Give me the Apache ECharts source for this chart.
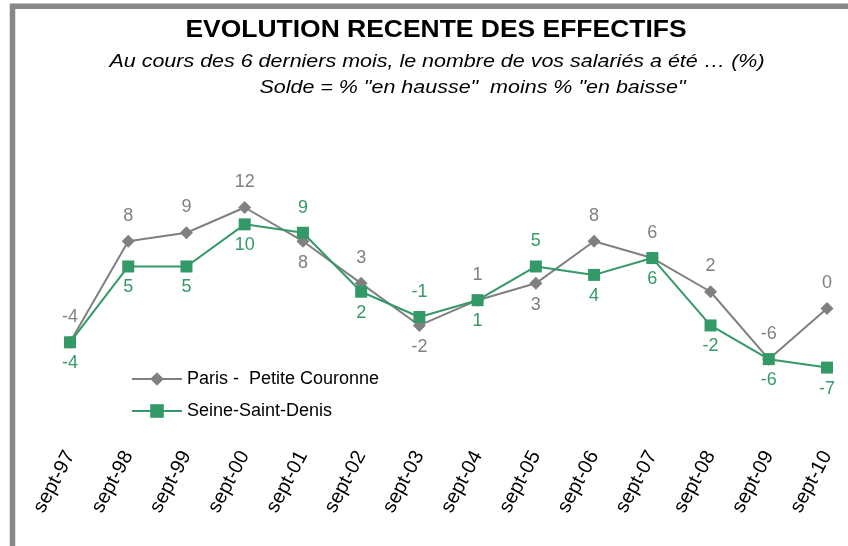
<!DOCTYPE html>
<html>
<head>
<meta charset="utf-8">
<script src="https://cdn.jsdelivr.net/npm/echarts@6/dist/echarts.min.js"></script>
<style>
  html, body { margin: 0; padding: 0; background: #ffffff; }
  #chart { width: 848px; height: 546px; }
</style>
</head>
<body>
<div id="chart"></div>
<script>
// Survey periods (September of each year)
const categories = ['sept-97', 'sept-98', 'sept-99', 'sept-00', 'sept-01', 'sept-02', 'sept-03',
                    'sept-04', 'sept-05', 'sept-06', 'sept-07', 'sept-08', 'sept-09', 'sept-10'];

// Balance of opinion on headcount: % "up" minus % "down"
const paris = [-4, 8, 9, 12, 8, 3, -2, 1, 3, 8, 6, 2, -6, 0];
const seineSaintDenis = [-4, 5, 5, 10, 9, 2, -1, 1, 5, 4, 6, -2, -6, -7];

const seriesNames = ['Paris -  Petite Couronne', 'Seine-Saint-Denis'];
const titleText = 'EVOLUTION RECENTE DES EFFECTIFS';
const subtitleLine1 = 'Au cours des 6 derniers mois, le nombre de vos salariés a été … (%)';
const subtitleLine2 = 'Solde = % "en hausse"  moins % "en baisse"';

const FONT = '"Liberation Sans", Arial, sans-serif';
const GREY = '#808080';
const GREEN = '#339966';

// Periods where the two series cross: labels swap sides there
const swapped = [4, 6, 8];

function withLabels(values, defaultPos) {
  const other = defaultPos === 'top' ? 'bottom' : 'top';
  return values.map((v, i) => {
    const pos = swapped.includes(i) ? other : defaultPos;
    return {
      value: v,
      label: { position: pos, distance: pos === 'top' ? 10 : 6 }
    };
  });
}

const chart = echarts.init(document.getElementById('chart'), null, { renderer: 'canvas' });

chart.setOption({
  animation: false,
  backgroundColor: '#ffffff',
  textStyle: { fontFamily: FONT },
  graphic: [
    {
      type: 'rect',
      silent: true,
      shape: { x: 12.5, y: 6.25, width: 1000, height: 800 },
      style: { fill: 'none', stroke: '#878787', lineWidth: 5.5 }
    },
    {
      type: 'text', x: 436, y: 31, scaleX: 1.15,
      style: { text: titleText, font: 'bold 23px ' + FONT, fill: '#000', align: 'center', verticalAlign: 'middle' }
    },
    {
      type: 'text', x: 437, y: 62, scaleX: 1.13,
      style: { text: subtitleLine1, font: 'italic 19px ' + FONT, fill: '#000', align: 'center', verticalAlign: 'middle' }
    },
    {
      type: 'text', x: 472.5, y: 88, scaleX: 1.13,
      style: { text: subtitleLine2, font: 'italic 19px ' + FONT, fill: '#000', align: 'center', verticalAlign: 'middle' }
    }
  ],
  legend: {
    orient: 'vertical',
    left: 131,
    top: 370,
    padding: 0,
    itemWidth: 50,
    itemHeight: 17,
    itemGap: 14,
    textStyle: { fontSize: 18, color: '#000', fontFamily: FONT },
    data: seriesNames
  },
  grid: { left: 70, right: 21, top: 190.65, height: 252.75, containLabel: false },
  xAxis: {
    type: 'category',
    data: categories,
    boundaryGap: false,
    axisLine: { show: false },
    axisTick: { show: false },
    splitLine: { show: false },
    axisLabel: {
      rotate: 62,
      margin: 9,
      fontSize: 20,
      color: '#000',
      fontFamily: FONT,
      interval: 0
    }
  },
  yAxis: {
    type: 'value',
    min: -16,
    max: 14,
    show: false,
    splitLine: { show: false }
  },
  series: [
    {
      name: seriesNames[0],
      type: 'line',
      data: withLabels(paris, 'top'),
      symbol: 'diamond',
      symbolSize: 13,
      lineStyle: { color: GREY, width: 2 },
      itemStyle: { color: GREY },
      label: { show: true, fontSize: 18, color: GREY, fontFamily: FONT },
      z: 2
    },
    {
      name: seriesNames[1],
      type: 'line',
      data: withLabels(seineSaintDenis, 'bottom'),
      symbol: 'rect',
      symbolSize: 12,
      lineStyle: { color: GREEN, width: 2 },
      itemStyle: { color: GREEN },
      label: { show: true, fontSize: 18, color: GREEN, fontFamily: FONT },
      z: 3
    }
  ]
});
</script>
</body>
</html>
